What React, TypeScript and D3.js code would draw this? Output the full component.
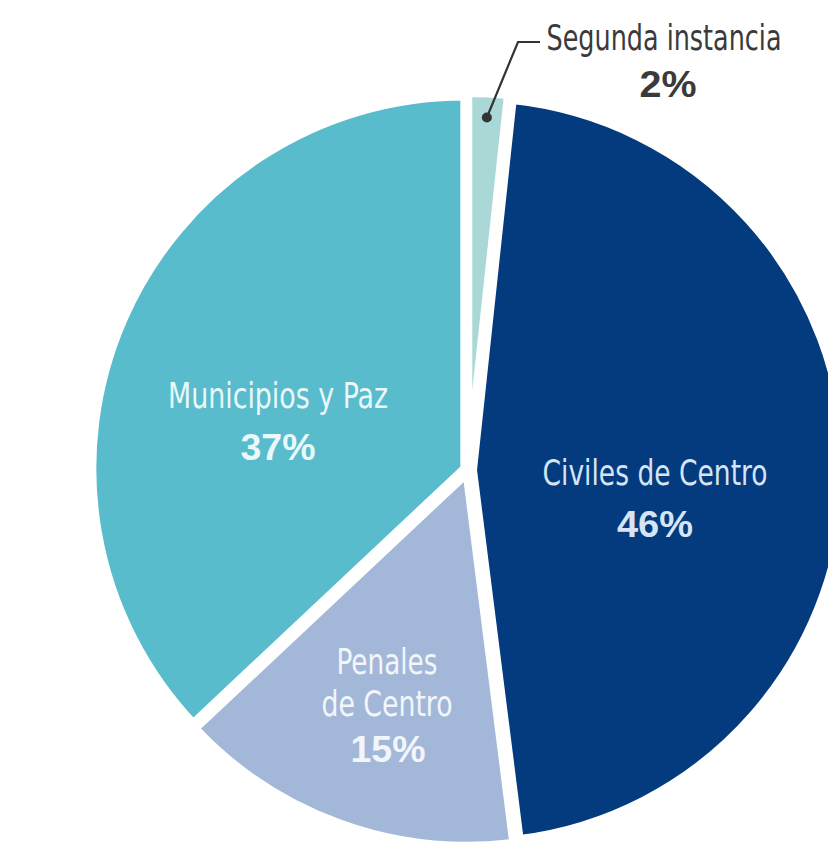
import React from "react";
import * as d3 from "d3";

// ---- data ----
const categories = ["Segunda instancia", "Civiles de Centro", "Penales de Centro", "Municipios y Paz"];
const shares = [1.7, 46.3, 15, 37];
const pctLabels = ["2%", "46%", "15%", "37%"];

// ---- styling / layout ----
const colors = ["#a9d8d6", "#033b7e", "#a3b8d8", "#58bccd"];
const textColors = ["#3a3a3a", "#d6e4f4", "#f2f6fb", "#eaf8fa"];
const explode = [5, 5, 4, 4];
const W = 828;
const H = 847;
const CX = 468;
const CY = 470;
const R = 372;

// label layout: lines of category name, center x, baselines
const labelLayout = [
  { lines: ["Segunda instancia"], widths: [235], x: 664, baselines: [50], pctBaseline: 97, pctWidth: 57, pctX: 668 },
  { lines: ["Civiles de Centro"], widths: [225], x: 655, baselines: [485], pctBaseline: 537, pctWidth: 76, pctX: 655 },
  { lines: ["Penales", "de Centro"], widths: [101, 131], x: 387, baselines: [674, 716], pctBaseline: 762, pctWidth: 75, pctX: 388 },
  { lines: ["Municipios y Paz"], widths: [220], x: 278, baselines: [408], pctBaseline: 460, pctWidth: 75, pctX: 278 },
];

export default function App() {
  const pie = d3.pie<number>().sort(null).value((d) => d).startAngle(0).endAngle(2 * Math.PI);
  const arcs = pie(shares);
  const arcGen = d3.arc<d3.PieArcDatum<number>>().innerRadius(0).outerRadius(R);

  const offsets = arcs.map((a, i) => {
    const mid = (a.startAngle + a.endAngle) / 2;
    return [Math.sin(mid) * explode[i], -Math.cos(mid) * explode[i]];
  });

  // leader dot for the small slice
  const a0 = arcs[0];
  const mid0 = (a0.startAngle + a0.endAngle) / 2;
  const dotR = 348;
  const dot = [CX + offsets[0][0] + Math.sin(mid0) * dotR, CY + offsets[0][1] - Math.cos(mid0) * dotR];

  const labelFont = "'Liberation Sans Narrow', 'DejaVu Sans Condensed', 'Liberation Sans', sans-serif";
  const pctFont = "'Liberation Sans', Arial, sans-serif";

  return (
    <svg
      width={W}
      height={H}
      style={{ position: "absolute", left: 0, top: 0, background: "#ffffff" }}
    >
      <g>
        {arcs.map((a, i) => (
          <path
            key={categories[i]}
            d={arcGen(a) || ""}
            transform={`translate(${CX + offsets[i][0]},${CY + offsets[i][1]})`}
            fill={colors[i]}
            stroke="#ffffff"
            strokeWidth={8}
            strokeLinejoin="round"
          />
        ))}
      </g>
      <polyline
        points={`${dot[0]},${dot[1]} 518,42 540,42`}
        fill="none"
        stroke="#333333"
        strokeWidth={2.2}
      />
      <circle cx={dot[0]} cy={dot[1]} r={5} fill="#333333" />
      {labelLayout.map((l, i) => (
        <g key={"lbl" + i} fill={textColors[i]}>
          {l.lines.map((line, j) => (
            <text
              key={line}
              x={l.x}
              y={l.baselines[j]}
              textAnchor="middle"
              fontFamily={labelFont}
              fontSize={35}
              textLength={l.widths[j]}
              lengthAdjust="spacingAndGlyphs"
            >
              {line}
            </text>
          ))}
          <text
            x={l.pctX}
            y={l.pctBaseline}
            textAnchor="middle"
            fontFamily={pctFont}
            fontWeight="bold"
            fontSize={37}
            textLength={l.pctWidth}
            lengthAdjust="spacingAndGlyphs"
          >
            {pctLabels[i]}
          </text>
        </g>
      ))}
    </svg>
  );
}
